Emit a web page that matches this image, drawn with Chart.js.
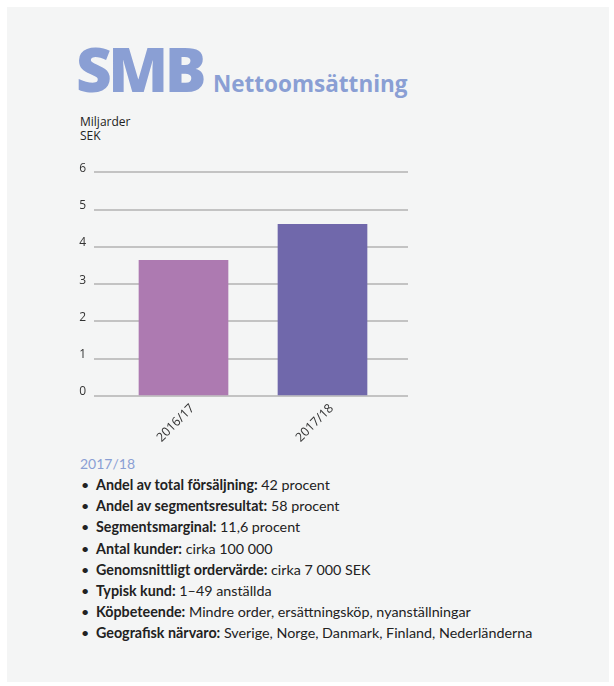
<!DOCTYPE html>
<html>
<head>
<meta charset="utf-8">
<script src="https://cdn.jsdelivr.net/npm/chart.js@4/dist/chart.umd.min.js"></script>
<style>
  html, body { margin: 0; padding: 0; background: #ffffff; }
  body { width: 614px; height: 686px; position: relative; overflow: hidden; font-family: Lato, sans-serif; color: #222; }
  #panel { position: absolute; left: 7px; top: 7px; width: 602px; height: 675px; background: #f4f5f5; }
  .abs { position: absolute; white-space: nowrap; }
  #smb { left: 76px; top: 28px; font-family: "Open Sans", sans-serif; font-size: 62px; font-weight: 800; letter-spacing: -3.5px; color: #8a9fd4; line-height: 80px; }
  #sub { left: 213px; top: 64px; font-family: "Open Sans", sans-serif; font-size: 22.5px; font-weight: 700; color: #8a9fd4; line-height: 40px; }
  #unit { left: 80px; top: 115px; font-family: "Open Sans", sans-serif; font-size: 12px; line-height: 14px; color: #222; }
  #chartBox { position: absolute; left: 60px; top: 157px; width: 360px; height: 293px; }
  #year { left: 80px; top: 455px; font-size: 14px; color: #8a9fd4; }
  #facts { position: absolute; left: 80px; top: 474px; margin: 0; padding: 0; list-style: none; font-size: 14.3px; }
  #facts li { position: relative; padding-left: 16px; height: 21.2px; line-height: 21.2px; white-space: nowrap; }
  #facts li::before { content: "\2022"; position: absolute; left: 1px; }
</style>
</head>
<body>
<div id="panel"></div>
<div class="abs" id="smb">SMB</div>
<div class="abs" id="sub">Nettoomsättning</div>
<div class="abs" id="unit">Miljarder<br>SEK</div>
<div id="chartBox"><canvas id="netChart"></canvas></div>
<div class="abs" id="year">2017/18</div>
<ul id="facts"></ul>
<script>
const categories = ["2016/17", "2017/18"];
const netSales = [3.64, 4.6];
const barColors = ["#ad7ab1", "#7068ab"];
const yTicks = [0, 1, 2, 3, 4, 5, 6];

const factLabels = [
  "Andel av total försäljning:",
  "Andel av segmentsresultat:",
  "Segmentsmarginal:",
  "Antal kunder:",
  "Genomsnittligt ordervärde:",
  "Typisk kund:",
  "Köpbeteende:",
  "Geografisk närvaro:"
];
const factValues = [
  "42 procent",
  "58 procent",
  "11,6 procent",
  "cirka 100 000",
  "cirka 7 000 SEK",
  "1–49 anställda",
  "Mindre order, ersättningsköp, nyanställningar",
  "Sverige, Norge, Danmark, Finland, Nederländerna"
];

const list = document.getElementById("facts");
factLabels.forEach((lab, i) => {
  const li = document.createElement("li");
  const b = document.createElement("b");
  b.textContent = lab;
  li.appendChild(b);
  li.appendChild(document.createTextNode(" " + factValues[i]));
  list.appendChild(li);
});

/* ========= NET SALES BAR CHART ========= */

const ctx = document.getElementById("netChart");

new Chart(ctx, {
  type: "bar",
  data: {
    datasets: [{
      data: categories.map((c, i) => ({ x: i, y: netSales[i] })),
      backgroundColor: barColors,
      barThickness: 89
    }]
  },
  options: {
    responsive: true,
    maintainAspectRatio: false,
    animation: false,
    layout: { padding: { top: 9, right: 12, left: 0, bottom: 0 } },
    plugins: { legend: { display: false }, tooltip: { enabled: false } },
    scales: {
      x: {
        type: "linear",
        offset: false,
        bounds: "data",
        min: -0.6439,
        max: 1.6151,
        grid: { display: false, offset: false },
        border: { display: false },
        afterBuildTicks: s => { s.ticks = categories.map((c, i) => ({ value: i })); },
        afterFit: s => { s.height = 54; },
        ticks: {
          minRotation: 45,
          maxRotation: 45,
          padding: -3,
          labelOffset: 9,
          color: "#333",
          font: { family: "Open Sans", size: 12.5 },
          callback: v => categories[v]
        }
      },
      y: {
        min: 0,
        max: 6,
        afterBuildTicks: s => { s.ticks = yTicks.map(v => ({ value: v })); },
        afterFit: s => { s.width = 34; },
        grid: { color: "#c3c3c3", lineWidth: 2, drawTicks: false },
        border: { display: false },
        ticks: {
          padding: 8,
          labelOffset: -4,
          color: "#333",
          font: { family: "Open Sans", size: 12 }
        }
      }
    }
  }
});
</script>
</body>
</html>
